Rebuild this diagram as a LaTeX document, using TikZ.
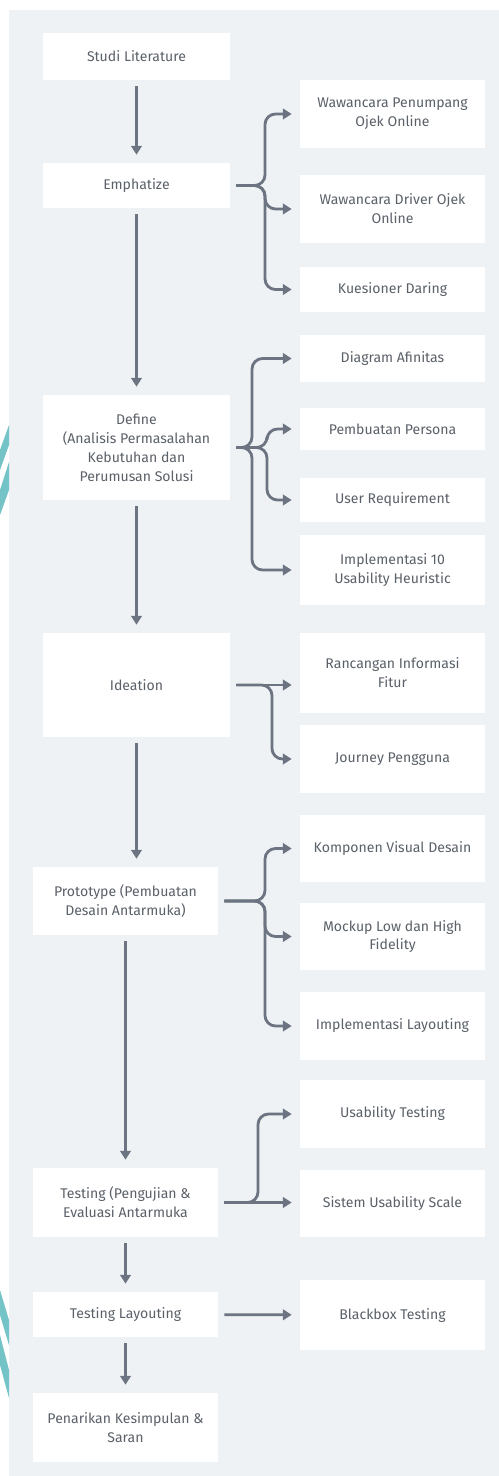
\documentclass[tikz,border=0pt]{standalone}
\usepackage{fontspec}
\setmainfont{Fira Sans}
\usetikzlibrary{arrows.meta}
\definecolor{latar}{HTML}{EEF2F5}
\definecolor{garis}{HTML}{6B7480}
\definecolor{teks}{HTML}{5B6169}
\definecolor{tosca}{HTML}{74C4C7}
\begin{document}
\begin{tikzpicture}[
    x=0.02cm, y=-0.02cm,
    font=\fontsize{8}{10.8}\selectfont,
    kotak/.style={fill=white, text=teks, minimum width=3.7cm, align=center, inner sep=2pt},
    panah/.style={-{Triangle[length=5pt, width=6pt]}, line width=1.6pt, draw=garis, rounded corners=6pt, shorten <=0.12cm, shorten >=0.16cm}
  ]
  \fill[latar] (9,10) rectangle (499,1476);
  \useasboundingbox (0,0) rectangle (499,1476);
  % garis tosca di tepi kiri
  \begin{scope}
    \clip (0,0) rectangle (9,1476);
    \fill[tosca] (9,425) -- (9,445) -- (0,470) -- (0,450) -- cycle;
    \fill[tosca] (9,462) -- (9,490) -- (0,515) -- (0,490) -- cycle;
    \fill[tosca] (0,1290) -- (0,1315) -- (9,1345) -- (9,1320) -- cycle;
    \fill[tosca] (0,1335) -- (0,1365) -- (9,1398) -- (9,1370) -- cycle;
  \end{scope}
  % tahap utama
  \node[kotak, minimum width=3.74cm, minimum height=0.94cm] (lit) at (136.5,56.5) {Studi Literature};
  \node[kotak, minimum width=3.74cm, minimum height=0.9cm] (emp) at (136.5,185.5) {Emphatize};
  \node[kotak, minimum width=3.74cm, minimum height=2.1cm] (def) at (136.5,447.5) {Define\\ (Analisis Permasalahan\\ Kebutuhan dan\\ Perumusan Solusi};
  \node[kotak, minimum width=3.74cm, minimum height=2.08cm] (ide) at (136.5,685) {Ideation};
  \node[kotak, minimum height=1.36cm] (pro) at (125.5,901) {Prototype (Pembuatan\\ Desain Antarmuka)};
  \node[kotak, minimum height=1.38cm] (tes) at (125.5,1202.5) {Testing (Pengujian \&\\ Evaluasi Antarmuka};
  \node[kotak, minimum height=0.9cm] (tl) at (125.5,1314.5) {Testing Layouting};
  \node[kotak, minimum height=1.38cm] (pen) at (125.5,1427.5) {Penarikan Kesimpulan \&\\ Saran};
  % kegiatan tiap tahap
  \node[kotak, minimum height=1.36cm] (w1) at (392.5,114) {Wawancara Penumpang\\ Ojek Online};
  \node[kotak, minimum height=1.36cm] (w2) at (392.5,209) {Wawancara Driver Ojek\\ Online};
  \node[kotak, minimum height=0.9cm] (kue) at (392.5,289.5) {Kuesioner Daring};
  \node[kotak, minimum height=0.94cm] (afi) at (392.5,358.5) {Diagram Afinitas};
  \node[kotak, minimum height=0.84cm] (per) at (392.5,429) {Pembuatan Persona};
  \node[kotak, minimum height=0.88cm] (ur) at (392.5,500) {User Requirement};
  \node[kotak, minimum height=1.4cm] (imp) at (392.5,570) {Implementasi 10\\ Usability Heuristic};
  \node[kotak, minimum height=1.6cm] (ran) at (392.5,673) {Rancangan Informasi\\ Fitur};
  \node[kotak, minimum height=1.36cm] (jou) at (392.5,759) {Journey Pengguna};
  \node[kotak, minimum height=1.34cm] (kom) at (392.5,848.5) {Komponen Visual Desain};
  \node[kotak, minimum height=1.34cm] (moc) at (392.5,936.5) {Mockup Low dan High\\ Fidelity};
  \node[kotak, minimum height=1.36cm] (lay) at (392.5,1026) {Implementasi Layouting};
  \node[kotak, minimum height=1.36cm] (ut) at (392.5,1114) {Usability Testing};
  \node[kotak, minimum height=1.34cm] (sus) at (392.5,1203.5) {Sistem Usability Scale};
  \node[kotak, minimum height=1.4cm] (bb) at (392.5,1315) {Blackbox Testing};
  % alur utama
  \draw[panah] (lit) -- (emp);
  \draw[panah] (emp) -- (def);
  \draw[panah] (def) -- (ide);
  \draw[panah] (ide.south) -- (ide.south |- pro.north);
  \draw[panah] (pro) -- (tes);
  \draw[panah] (tes) -- (tl);
  \draw[panah] (tl) -- (pen);
  % cabang
  \draw[panah] (emp.east) -- (265,185.5) |- (w1.west);
  \draw[panah] (emp.east) -- (265,185.5) |- (w2.west);
  \draw[panah] (emp.east) -- (265,185.5) |- (kue.west);
  \draw[panah] (def.east) -- (252,447.5) |- (afi.west);
  \draw[panah] (def.east) -- (267,447.5) |- (per.west);
  \draw[panah] (def.east) -- (267,447.5) |- (ur.west);
  \draw[panah] (def.east) -- (252,447.5) |- (imp.west);
  \draw[panah] (ide.east) -- (ide.east -| ran.west);
  \draw[panah] (ide.east) -- (272,685) |- (jou.west);
  \draw[panah] (pro.east) -- (265,901) |- (kom.west);
  \draw[panah] (pro.east) -- (265,901) |- (moc.west);
  \draw[panah] (pro.east) -- (265,901) |- (lay.west);
  \draw[panah] (tes.east) -- (tes.east -| sus.west);
  \draw[panah] (tes.east) -- (258,1202.5) |- (ut.west);
  \draw[panah] (tl) -- (bb);
\end{tikzpicture}
\end{document}
